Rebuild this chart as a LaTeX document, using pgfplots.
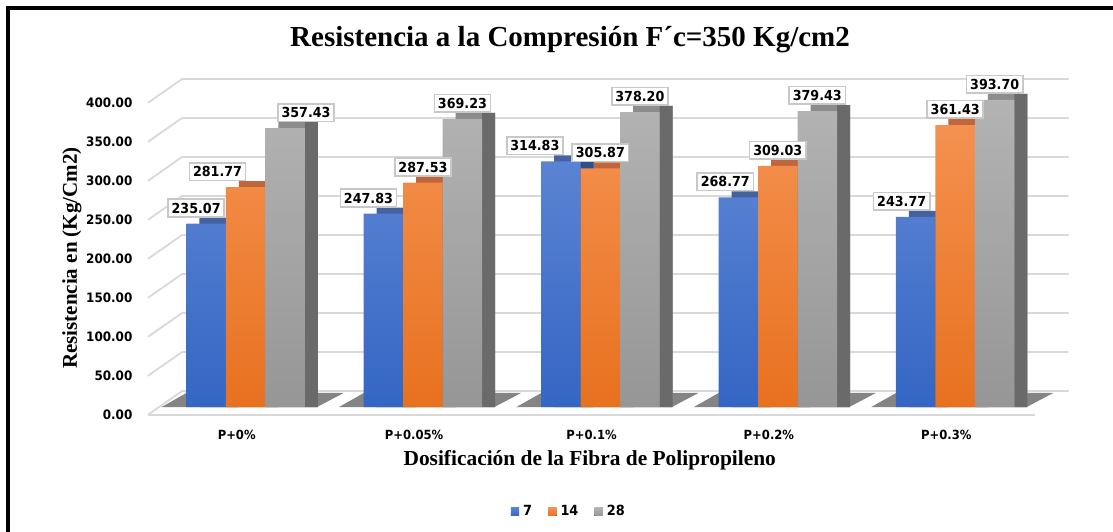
\documentclass[border=0pt]{standalone}
\usepackage{fontspec}
\setmainfont{DejaVu Sans}[FakeStretch=0.92]
\newfontfamily\serifb{Liberation Serif}
\usepackage{pgfplots}
\pgfplotsset{compat=1.18}
\usepackage{pgfplotstable}

\definecolor{bluetop}{HTML}{5B83D3}
\definecolor{bluebot}{HTML}{3466C4}
\definecolor{bluedark}{HTML}{44629F}
\definecolor{blueside}{HTML}{2F4F8A}
\definecolor{orgtop}{HTML}{F4914F}
\definecolor{orgbot}{HTML}{E8711F}
\definecolor{orgdark}{HTML}{C0663A}
\definecolor{orgside}{HTML}{A5521F}
\definecolor{graytop}{HTML}{B3B3B3}
\definecolor{graybot}{HTML}{969696}
\definecolor{graydark}{HTML}{8C8C8C}
\definecolor{grayside}{HTML}{6A6A6A}
\definecolor{gridc}{HTML}{D9D9D9}
\definecolor{boxc}{HTML}{C8C8C8}

% g = category index, v = value, dx = label shift (pt)
\pgfplotstableread{
g v dx
0 235.07 -5
1 247.83 -7.5
2 314.83 -13
3 268.77 -6.5
4 243.77 -7
}\dataA
\pgfplotstableread{
g v dx
0 281.77 -14
1 287.53 0
2 305.87 0
3 309.03 0
4 361.43 0
}\dataB
\pgfplotstableread{
g v dx
0 357.43 10.5
1 369.23 0
2 378.20 0
3 379.43 0
4 393.70 0
}\dataC

\begin{document}
\begin{tikzpicture}
\useasboundingbox (0,0) rectangle (556.5pt,265.5pt);
\fill[white] (0,0) rectangle (556.5pt,265.5pt);
\draw[line width=2pt, line join=miter] (4pt,-2pt) -- (4pt,261.5pt) -- (560pt,261.5pt);
\begin{axis}[
  at={(74pt,58.1pt)}, anchor=south west,
  scale only axis, width=443.5pt, height=173.55pt,
  xmin=-0.5, xmax=4.5, ymin=-10, ymax=435,
  clip=false,
  axis line style={draw=none},
  major tick length=0pt,
  xtick={0,1,2,3,4},
  xticklabels={P+0\%,P+0.05\%,P+0.1\%,P+0.2\%,P+0.3\%},
  xticklabel style={font=\fontsize{6.3}{7}\selectfont\bfseries, yshift=-4pt},
  ytick={0,50,...,400},
  yticklabel style={font=\fontsize{6.5}{7}\selectfont\bfseries, yshift=-4pt, xshift=-4.3pt,
    /pgf/number format/.cd, fixed, fixed zerofill, precision=2, 1000 sep={}, assume math mode=true},
  title={Resistencia a la Compresión F´c=350 Kg/cm2},
  title style={font=\serifb\fontsize{14.5}{17}\selectfont\bfseries, at={(axis description cs:0.4758,1.0452)}, anchor=center},
  xlabel={Dosificación de la Fibra de Polipropileno},
  xlabel style={font=\serifb\fontsize{10.7}{12}\selectfont\bfseries, at={(axis description cs:0.498,-0.130)}, anchor=center},
  ylabel={Resistencia en (Kg/Cm2)},
  ylabel style={font=\serifb\fontsize{10.5}{12}\selectfont\bfseries, at={(axis description cs:-0.0857,0.4517)}, anchor=center, rotate=0},
  legend style={at={(axis description cs:0.4755,-0.280)}, anchor=center, draw=none, fill=none,
    legend columns=3, font=\fontsize{7}{8}\selectfont\bfseries,
    /tikz/every even column/.append style={column sep=6pt}},
  legend image code/.code={\fill[#1] (0pt,-2pt) rectangle (4.2pt,2.2pt);},
]
% back wall grid lines and left wall
\pgfplotsinvokeforeach{0,50,100,150,200,250,300,350,400}{
  \draw[gridc, line width=0.9pt] (axis cs:-0.5,#1-10) -- (axis cs:-0.308,#1+20.5) -- (axis cs:4.69,#1+20.5);
}
% floor front edge
\draw[gridc, line width=0.9pt] (axis cs:-0.5,-10) -- (axis cs:4.5,-10);
% floor shadows
\pgfplotsinvokeforeach{0,1,2,3,4}{
  \fill[black!80, opacity=0.6] (axis cs:#1-0.423,0) -- (axis cs:#1+0.453,0) -- (axis cs:#1+0.603,18) -- (axis cs:#1-0.283,18) -- cycle;
}
% bar depth: top faces
\addplot[ybar, bar width=0.2226, bar shift=-0.0993, fill=bluedark, draw=none, forget plot]
  table[x=g, y expr=\thisrow{v}+7.7]{\dataA};
\addplot[ybar, bar width=0.2226, bar shift=0.1233, fill=orgdark, draw=none, forget plot]
  table[x=g, y expr=\thisrow{v}+7.7]{\dataB};
\addplot[ybar, bar width=0.2226, bar shift=0.3459, fill=graydark, draw=none, forget plot]
  table[x=g, y expr=\thisrow{v}+7.7]{\dataC};
% bar depth: side faces
\addplot[ybar, bar width=0.0733, bar shift=-0.0246, fill=blueside, draw=none, forget plot]
  table[x=g, y expr=\thisrow{v}+7.7]{\dataA};
\addplot[ybar, bar width=0.0733, bar shift=0.1980, fill=orgside, draw=none, forget plot]
  table[x=g, y expr=\thisrow{v}+7.7]{\dataB};
\addplot[ybar, bar width=0.0733, bar shift=0.4206, fill=grayside, draw=none, forget plot]
  table[x=g, y expr=\thisrow{v}+7.7]{\dataC};
% bar fronts
\addplot[ybar, bar width=0.2226, bar shift=-0.1726, top color=bluetop, bottom color=bluebot, draw=none]
  table[x=g, y=v]{\dataA};
\addlegendentry{7}
\addplot[ybar, bar width=0.2226, bar shift=0.05, top color=orgtop, bottom color=orgbot, draw=none]
  table[x=g, y=v]{\dataB};
\addlegendentry{14}
\addplot[ybar, bar width=0.2226, bar shift=0.2726, top color=graytop, bottom color=graybot, draw=none]
  table[x=g, y=v]{\dataC};
\addlegendentry{28}
% data labels
\pgfplotsset{lbl/.style={draw=none, mark=none, forget plot,
  point meta=explicit symbolic,
  visualization depends on={\thisrow{dx} \as \lbldx},
  nodes near coords={\pgfplotspointmeta},
  every node near coord/.style={anchor=south, xshift=\lbldx pt, fill=white, draw=boxc, line width=0.8pt,
    inner sep=1.8pt, font=\fontsize{6.9}{7.5}\selectfont\bfseries, text=black}}}
\addplot[lbl] table[x expr=\thisrow{g}-0.1726, y expr=\thisrow{v}+7.7, meta=v]{\dataA};
\addplot[lbl] table[x expr=\thisrow{g}+0.05, y expr=\thisrow{v}+7.7, meta=v]{\dataB};
\addplot[lbl] table[x expr=\thisrow{g}+0.2726, y expr=\thisrow{v}+7.7, meta=v]{\dataC};
\end{axis}
\end{tikzpicture}
\end{document}
